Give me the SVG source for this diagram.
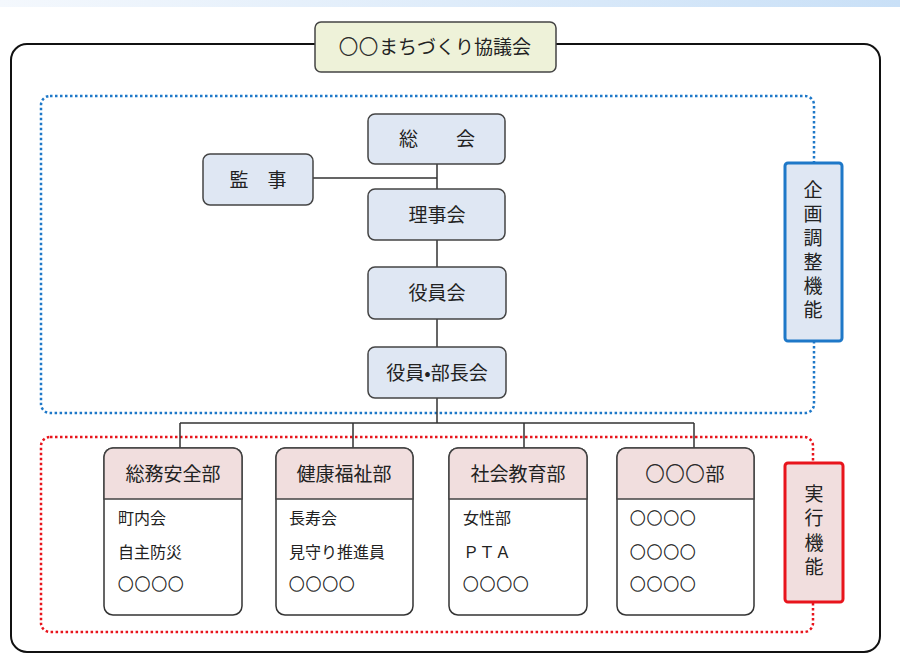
<svg xmlns="http://www.w3.org/2000/svg" width="900" height="654" viewBox="0 0 900 654">
<defs>
<linearGradient id="topbar" x1="0" y1="0" x2="1" y2="0">
<stop offset="0" stop-color="#f4f8fd"/>
<stop offset="1" stop-color="#c9e0f7"/>
</linearGradient>
<style>
text{font-family:"Noto Sans CJK JP","Noto Sans",sans-serif;fill:#222;}
.box{fill:#dfe7f3;stroke:#444;stroke-width:1.5;}
.hdr{fill:#f1dede;stroke:#444;stroke-width:1.5;}
.card{fill:#fff;stroke:#333;stroke-width:1.5;}
.t18{font-size:19px;text-anchor:middle;}
.t15{font-size:16px;}
.c{font-size:15.5px;letter-spacing:1.2px;stroke:#222;stroke-width:0.4;}
.ct{stroke:#222;stroke-width:0.4;letter-spacing:1px;}
.line{stroke:#333;stroke-width:1.5;fill:none;}
.vt{font-size:19px;text-anchor:middle;writing-mode:vertical-rl;}
</style>
</defs>
<rect x="0" y="0" width="900" height="7" fill="url(#topbar)"/>
<rect x="11" y="44" width="869" height="608" rx="16" fill="#fff" stroke="#111" stroke-width="2"/>
<rect x="41" y="96" width="773" height="317" rx="9" fill="none" stroke="#1e78c8" stroke-width="2.5" stroke-dasharray="2.5 2.5"/>
<rect x="41" y="437" width="772" height="195" rx="9" fill="none" stroke="#e8141c" stroke-width="2.5" stroke-dasharray="2.5 2.5"/>
<g id="title">
<rect x="315" y="22" width="241" height="50" rx="6" fill="#eef2d9" stroke="#444" stroke-width="1.5"/>
<text class="t18" x="435" y="54"><tspan class="ct">○○</tspan>まちづくり協議会</text>
</g>
<g id="connectors">
<path class="line" d="M437 164V189M313 178H437M437 240V267M437 319V347M437 398V423M180 423H694M180 423V448M353 423V448M524 423V448M694 423V448"/>
</g>
<g id="soukai"><rect class="box" x="368" y="114" width="137" height="50" rx="7"/><text class="t18" x="437" y="146">総　　会</text></g>
<g id="kanji"><rect class="box" x="203" y="154" width="110" height="51" rx="7"/><text class="t18" x="258" y="187">監　事</text></g>
<g id="rijikai"><rect class="box" x="368" y="189" width="137" height="51" rx="7"/><text class="t18" x="437" y="222">理事会</text></g>
<g id="yakuinkai"><rect class="box" x="368" y="267" width="138" height="52" rx="7"/><text class="t18" x="437" y="300">役員会</text></g>
<g id="buchokai"><rect class="box" x="368" y="347" width="138" height="51" rx="7"/><text class="t18" x="437" y="380">役員•部長会</text></g>
<g id="kikaku"><rect x="785" y="163" width="57" height="178" rx="3" fill="#dfe7f3" stroke="#1e78c8" stroke-width="3"/>
<text class="vt" x="813" y="252" letter-spacing="5">企画調整機能</text></g>
<g id="jikko"><rect x="785" y="463" width="58" height="139" rx="3" fill="#f1dede" stroke="#e8141c" stroke-width="3"/>
<text class="vt" x="814" y="533" letter-spacing="5.5">実行機能</text></g>
<g id="somu"><rect class="card" x="104" y="448" width="138" height="167" rx="9"/><path class="hdr" d="M104 499V457a9 9 0 0 1 9-9H233a9 9 0 0 1 9 9V499Z"/>
<text class="t18" x="173" y="481">総務安全部</text>
<text class="t15" x="118" y="524">町内会</text><text class="t15" x="118" y="558">自主防災</text><text class="c" x="118" y="590">○○○○</text></g>
<g id="kenko"><rect class="card" x="276" y="448" width="137" height="167" rx="9"/><path class="hdr" d="M276 499V457a9 9 0 0 1 9-9H404a9 9 0 0 1 9 9V499Z"/>
<text class="t18" x="344" y="481">健康福祉部</text>
<text class="t15" x="289" y="524">長寿会</text><text class="t15" x="289" y="558">見守り推進員</text><text class="c" x="289" y="590">○○○○</text></g>
<g id="shakai"><rect class="card" x="449" y="448" width="138" height="167" rx="9"/><path class="hdr" d="M449 499V457a9 9 0 0 1 9-9H578a9 9 0 0 1 9 9V499Z"/>
<text class="t18" x="518" y="481">社会教育部</text>
<text class="t15" x="463" y="524">女性部</text><text class="t15" x="463" y="558">ＰＴＡ</text><text class="c" x="463" y="590">○○○○</text></g>
<g id="maru"><rect class="card" x="617" y="448" width="137" height="167" rx="9"/><path class="hdr" d="M617 499V457a9 9 0 0 1 9-9H745a9 9 0 0 1 9 9V499Z"/>
<text class="t18" x="685" y="481"><tspan class="ct">○○○</tspan>部</text>
<text class="c" x="630" y="524">○○○○</text><text class="c" x="630" y="558">○○○○</text><text class="c" x="630" y="590">○○○○</text></g>
</svg>
